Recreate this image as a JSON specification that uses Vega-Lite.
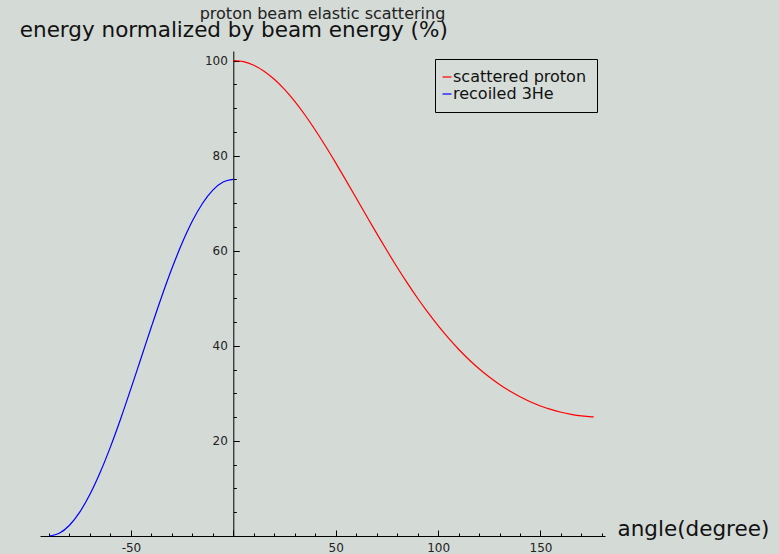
{
  "$schema": "https://vega.github.io/schema/vega-lite/v6.json",
  "width": 565,
  "height": 485,
  "autosize": {"type": "none"},
  "padding": {"left": 40, "top": 51, "right": 174, "bottom": 18},
  "background": "#d4dad6",
  "config": {
    "view": {"stroke": null},
    "font": "DejaVu Sans",
    "axis": {
      "grid": false,
      "domainColor": "#000000",
      "domainWidth": 1,
      "tickColor": "#000000",
      "tickWidth": 1,
      "labelColor": "#222222",
      "labelFont": "DejaVu Sans",
      "labelFontSize": 12,
      "titleFont": "DejaVu Sans",
      "titleFontWeight": "normal",
      "titleColor": "#111111"
    },
    "legend": {
      "labelFont": "DejaVu Sans",
      "labelFontSize": 16,
      "labelColor": "#111111"
    }
  },
  "title": {
    "text": "proton beam elastic scattering",
    "anchor": "middle",
    "frame": "group",
    "fontSize": 16,
    "fontWeight": "normal",
    "color": "#222222",
    "baseline": "alphabetic",
    "offset": -15
  },
  "data": {
    "values": [
      {"angle": 0, "energy": 100.0, "series": "scattered proton"},
      {"angle": 5, "energy": 99.75, "series": "scattered proton"},
      {"angle": 10, "energy": 98.99, "series": "scattered proton"},
      {"angle": 15, "energy": 97.75, "series": "scattered proton"},
      {"angle": 20, "energy": 96.05, "series": "scattered proton"},
      {"angle": 25, "energy": 93.92, "series": "scattered proton"},
      {"angle": 30, "energy": 91.40, "series": "scattered proton"},
      {"angle": 35, "energy": 88.54, "series": "scattered proton"},
      {"angle": 40, "energy": 85.39, "series": "scattered proton"},
      {"angle": 45, "energy": 82.02, "series": "scattered proton"},
      {"angle": 50, "energy": 78.47, "series": "scattered proton"},
      {"angle": 55, "energy": 74.80, "series": "scattered proton"},
      {"angle": 60, "energy": 71.08, "series": "scattered proton"},
      {"angle": 65, "energy": 67.34, "series": "scattered proton"},
      {"angle": 70, "energy": 63.64, "series": "scattered proton"},
      {"angle": 75, "energy": 60.03, "series": "scattered proton"},
      {"angle": 80, "energy": 56.53, "series": "scattered proton"},
      {"angle": 85, "energy": 53.18, "series": "scattered proton"},
      {"angle": 90, "energy": 50.00, "series": "scattered proton"},
      {"angle": 95, "energy": 47.01, "series": "scattered proton"},
      {"angle": 100, "energy": 44.23, "series": "scattered proton"},
      {"angle": 105, "energy": 41.65, "series": "scattered proton"},
      {"angle": 110, "energy": 39.28, "series": "scattered proton"},
      {"angle": 115, "energy": 37.12, "series": "scattered proton"},
      {"angle": 120, "energy": 35.17, "series": "scattered proton"},
      {"angle": 125, "energy": 33.42, "series": "scattered proton"},
      {"angle": 130, "energy": 31.86, "series": "scattered proton"},
      {"angle": 135, "energy": 30.48, "series": "scattered proton"},
      {"angle": 140, "energy": 29.28, "series": "scattered proton"},
      {"angle": 145, "energy": 28.24, "series": "scattered proton"},
      {"angle": 150, "energy": 27.35, "series": "scattered proton"},
      {"angle": 155, "energy": 26.62, "series": "scattered proton"},
      {"angle": 160, "energy": 26.03, "series": "scattered proton"},
      {"angle": 165, "energy": 25.58, "series": "scattered proton"},
      {"angle": 170, "energy": 25.25, "series": "scattered proton"},
      {"angle": 175, "energy": 25.06, "series": "scattered proton"},
      {"angle": 176, "energy": 25.04, "series": "scattered proton"},
      {"angle": -90, "energy": 0.0, "series": "recoiled 3He"},
      {"angle": -85, "energy": 0.57, "series": "recoiled 3He"},
      {"angle": -80, "energy": 2.26, "series": "recoiled 3He"},
      {"angle": -75, "energy": 5.02, "series": "recoiled 3He"},
      {"angle": -70, "energy": 8.77, "series": "recoiled 3He"},
      {"angle": -65, "energy": 13.40, "series": "recoiled 3He"},
      {"angle": -60, "energy": 18.75, "series": "recoiled 3He"},
      {"angle": -55, "energy": 24.67, "series": "recoiled 3He"},
      {"angle": -50, "energy": 30.99, "series": "recoiled 3He"},
      {"angle": -45, "energy": 37.50, "series": "recoiled 3He"},
      {"angle": -40, "energy": 44.01, "series": "recoiled 3He"},
      {"angle": -35, "energy": 50.33, "series": "recoiled 3He"},
      {"angle": -30, "energy": 56.25, "series": "recoiled 3He"},
      {"angle": -25, "energy": 61.60, "series": "recoiled 3He"},
      {"angle": -20, "energy": 66.23, "series": "recoiled 3He"},
      {"angle": -15, "energy": 69.98, "series": "recoiled 3He"},
      {"angle": -10, "energy": 72.74, "series": "recoiled 3He"},
      {"angle": -5, "energy": 74.43, "series": "recoiled 3He"},
      {"angle": 0, "energy": 75.0, "series": "recoiled 3He"}
    ]
  },
  "layer": [
    {
      "transform": [{"filter": "datum.series == 'scattered proton'"}],
      "mark": {"type": "line", "strokeWidth": 1.2, "interpolate": "monotone"},
      "encoding": {
        "x": {
          "field": "angle",
          "type": "quantitative",
          "scale": {"domain": [-94.4, 181.5], "nice": false, "zero": false},
          "axis": {
            "orient": "bottom",
            "values": [-50, 0, 50, 100, 150],
            "tickSize": -6,
            "labelPadding": 12,
            "labelExpr": "datum.value == 0 ? '' : (datum.value < 0 ? '-' + abs(datum.value) : datum.label)",
            "title": "angle(degree)",
            "titleFontSize": 21.5,
            "titleX": 577,
            "titleY": -1,
            "titleAlign": "left",
            "titleBaseline": "alphabetic"
          }
        },
        "y": {
          "field": "energy",
          "type": "quantitative",
          "scale": {"domain": [0, 102], "nice": false, "zero": false},
          "axis": {
            "orient": "left",
            "offset": -193.3,
            "values": [20, 40, 60, 80, 100],
            "tickSize": -6,
            "labelPadding": 12,
            "title": "energy normalized by beam energy (%)",
            "titleFontSize": 21.5,
            "titleAngle": 0,
            "titleX": 0,
            "titleY": -14.3,
            "titleAlign": "center",
            "titleBaseline": "alphabetic"
          }
        },
        "color": {
          "field": "series",
          "type": "nominal",
          "scale": {"domain": ["scattered proton", "recoiled 3He"], "range": ["#ff0000", "#0000ff"]},
          "legend": {
            "title": null,
            "orient": "none",
            "legendX": 395,
            "legendY": 8,
            "symbolType": "stroke",
            "symbolSize": 81,
            "symbolStrokeWidth": 1.2,
            "symbolOffset": -6,
            "labelOffset": -2,
            "rowPadding": 1,
            "padding": 10,
            "strokeColor": "#000000",
            "fillColor": "#d6dcd8"
          }
        }
      }
    },
    {
      "transform": [{"filter": "datum.series == 'recoiled 3He'"}],
      "mark": {"type": "line", "strokeWidth": 1.2, "interpolate": "monotone"},
      "encoding": {
        "x": {
          "field": "angle",
          "type": "quantitative",
          "scale": {"domain": [-94.4, 181.5], "nice": false, "zero": false},
          "axis": {
            "orient": "bottom",
            "values": [-90, -80, -70, -60, -40, -30, -20, -10, 10, 20, 30, 40, 60, 70, 80, 90, 110, 120, 130, 140, 160, 170, 180],
            "tickSize": -3,
            "labels": false,
            "domain": false,
            "title": null
          }
        },
        "y": {
          "field": "energy",
          "type": "quantitative",
          "scale": {"domain": [0, 102], "nice": false, "zero": false},
          "axis": {
            "orient": "left",
            "offset": -193.3,
            "values": [5, 10, 15, 25, 30, 35, 45, 50, 55, 65, 70, 75, 85, 90, 95],
            "tickSize": -3,
            "labels": false,
            "domain": false,
            "title": null
          }
        },
        "color": {
          "field": "series",
          "type": "nominal",
          "scale": {"domain": ["scattered proton", "recoiled 3He"], "range": ["#ff0000", "#0000ff"]},
          "legend": {
            "title": null,
            "orient": "none",
            "legendX": 395,
            "legendY": 8,
            "symbolType": "stroke",
            "symbolSize": 81,
            "symbolStrokeWidth": 1.2,
            "symbolOffset": -6,
            "labelOffset": -2,
            "rowPadding": 1,
            "padding": 10,
            "strokeColor": "#000000",
            "fillColor": "#d6dcd8"
          }
        }
      }
    }
  ],
  "resolve": {"axis": {"x": "independent", "y": "independent"}}
}
